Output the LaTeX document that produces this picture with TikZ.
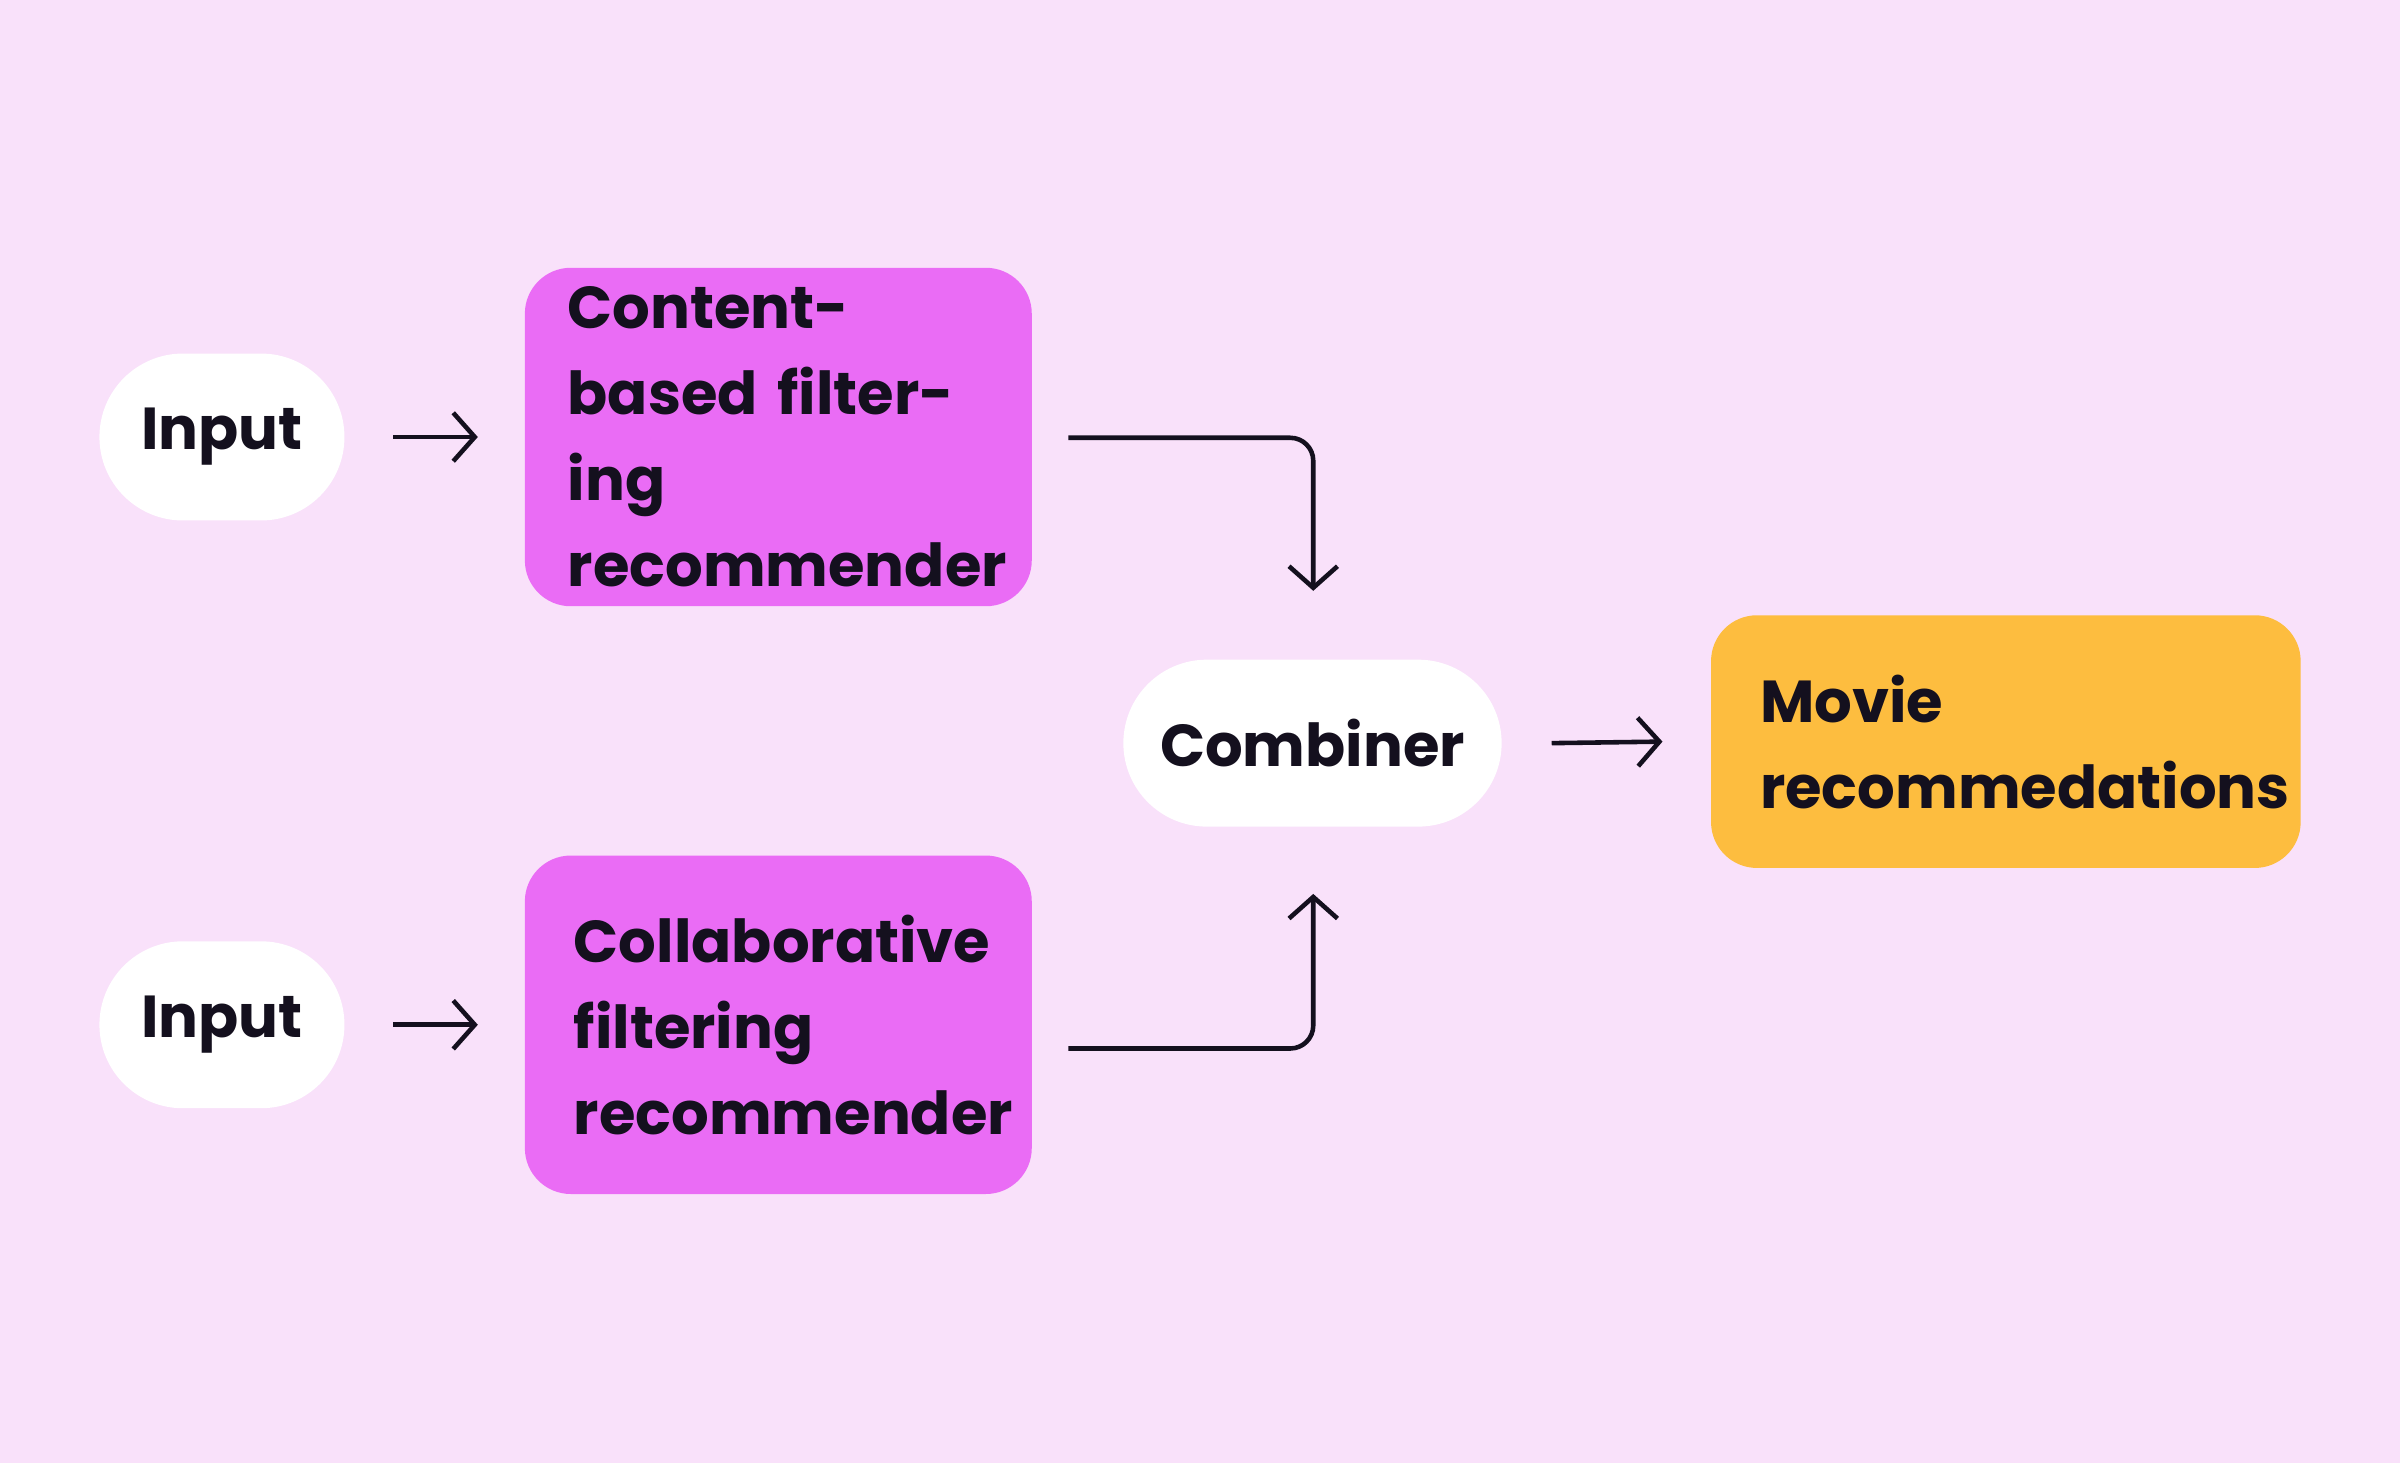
\documentclass[tikz,border=0pt]{standalone}
\usepackage{fontspec}
\setmainfont{Poppins}
\usetikzlibrary{arrows.meta}
\definecolor{bg}{HTML}{F9E1FA}
\definecolor{pink}{HTML}{EA6CF5}
\definecolor{gold}{HTML}{FDBD3F}
\definecolor{ink}{HTML}{14101E}
\begin{document}
\begin{tikzpicture}[x=0.01cm,y=-0.01cm,
  font=\fontsize{11pt}{16pt}\selectfont\bfseries, text=ink,
  pill/.style={fill=white,rounded corners=0.545cm,minimum width=1.6cm,minimum height=1.09cm,inner sep=0pt},
  box/.style={rounded corners=0.3cm,minimum height=2.21cm,text width=2.75cm,inner xsep=0.28cm,align=left},
  arr/.style={draw=ink,line width=0.85pt,-{Straight Barb[length=4pt,width=9pt]}}]
\fill[bg] (0,0) rectangle (1568,956);
\node[pill] (in1) at (145,285.5) {Input};
\node[pill] (in2) at (145,669.5) {Input};
\node[box,fill=pink] (cb) at (508.5,285.5) {Content-\\based filtering\\recommender};
\node[box,fill=pink,inner xsep=0.32cm,text width=2.67cm] (cf) at (508.5,669.5) {Collaborative\\filtering\\recommender};
\node[pill,minimum width=2.47cm] (comb) at (857.5,485.5) {Combiner};
\node[fill=gold,rounded corners=0.3cm,minimum width=3.85cm,minimum height=1.65cm,text width=3.21cm,inner xsep=0.32cm,align=left] (mv) at (1310.5,484.5) {Movie\\recommedations};
\draw[arr] ([xshift=0.31cm]in1.east) -- ([xshift=-0.3cm]cb.west);
\draw[arr] ([xshift=0.31cm]in2.east) -- ([xshift=-0.3cm]cf.west);
\draw[arr] ([xshift=0.32cm]comb.east) -- ([xshift=-0.31cm]mv.west);
\coordinate (t1) at (698,286);
\coordinate (t2) at (858,386);
\coordinate (b1) at (698,685);
\coordinate (b2) at (858,584);
\draw[arr,rounded corners=0.15cm] (t1) -| (t2);
\draw[arr,rounded corners=0.15cm] (b1) -| (b2);
\end{tikzpicture}
\end{document}
